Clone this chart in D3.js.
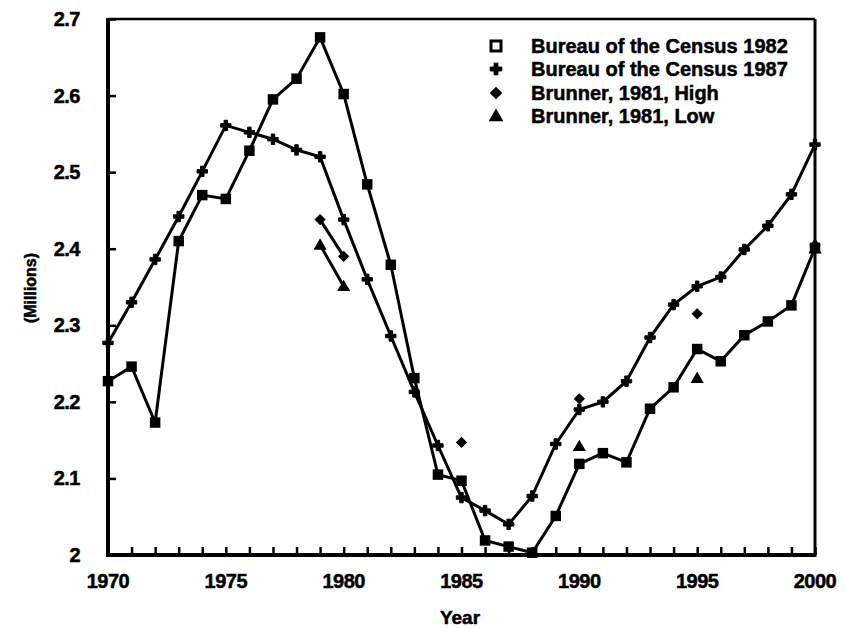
<!DOCTYPE html>
<html><head><meta charset="utf-8">
<script src="https://cdn.jsdelivr.net/npm/d3@7/dist/d3.min.js"></script>
<style>body{margin:0;background:#fff}svg{display:block}text{font-family:"Liberation Sans",Arial,sans-serif;font-weight:bold;fill:#000;stroke:#000;stroke-width:0.5}</style>
</head><body><svg id="c" width="845" height="628"></svg>
<script>
const years = d3.range(1970, 2001);
const census1982 = [2.227,2.246,2.173,2.410,2.470,2.465,2.528,2.595,2.622,2.676,2.602,2.484,2.379,2.231,2.105,2.097,2.019,2.011,2.003,2.051,2.119,2.133,2.121,2.191,2.219,2.269,2.253,2.287,2.305,2.326,2.401];
const census1987 = [2.277,2.330,2.386,2.442,2.501,2.561,2.552,2.543,2.529,2.520,2.438,2.360,2.286,2.213,2.143,2.075,2.058,2.040,2.077,2.145,2.190,2.200,2.227,2.284,2.327,2.351,2.363,2.399,2.430,2.471,2.536];
const brunnerHighYears = [1979,1980,1985,1990,1995,2000];
const brunnerHigh = [2.438,2.390,2.147,2.204,2.315,2.405];
const brunnerLowYears = [1979,1980,1990,1995,2000];
const brunnerLow = [2.405,2.351,2.142,2.231,2.400];
const xTickLabels = [1970,1975,1980,1985,1990,1995,2000];
const yTickLabels = [2,2.1,2.2,2.3,2.4,2.5,2.6,2.7];
const legendLabels = ["Bureau of the Census 1982","Bureau of the Census 1987","Brunner, 1981, High","Brunner, 1981, Low"];

const svg = d3.select("#c");
const x = d3.scaleLinear().domain([1970,2000]).range([108,815]);
const y = d3.scaleLinear().domain([2,2.7]).range([555,19]);

// frame
svg.append("line").attr("x1",x(1970)).attr("x2",x(2000)).attr("y1",y(2.7)).attr("y2",y(2.7)).attr("stroke","#000").attr("stroke-width",2.5);
svg.append("line").attr("x1",x(2000)).attr("x2",x(2000)).attr("y1",y(2.7)).attr("y2",y(2)).attr("stroke","#000").attr("stroke-width",3);

// axes with inward ticks
const xAxis = d3.axisBottom(x).tickValues(years).tickSize(-8).tickFormat("");
const gx = svg.append("g").attr("transform",`translate(0,${y(2)})`).call(xAxis);
gx.select(".domain").remove();
gx.selectAll(".tick line").attr("stroke","#000").attr("stroke-width",2.5);
const yAxis = d3.axisLeft(y).tickValues(yTickLabels).tickSize(-8).tickFormat("");
const gy = svg.append("g").attr("transform",`translate(${x(1970)},0)`).call(yAxis);
gy.select(".domain").remove();
gy.selectAll(".tick line").attr("stroke","#000").attr("stroke-width",2.5);
svg.append("line").attr("x1",x(1970)-2).attr("x2",x(2000)+1.5).attr("y1",y(2)).attr("y2",y(2)).attr("stroke","#000").attr("stroke-width",4);
svg.append("line").attr("x1",x(1970)).attr("x2",x(1970)).attr("y1",y(2.7)-1).attr("y2",y(2)+2).attr("stroke","#000").attr("stroke-width",4);

// tick labels
svg.selectAll(".xl").data(xTickLabels).enter().append("text")
  .attr("x",d=>x(d)).attr("y",y(2)+33).attr("text-anchor","middle").attr("font-size",20).attr("letter-spacing",-0.5).text(d=>d);
svg.selectAll(".yl").data(yTickLabels).enter().append("text")
  .attr("x",80).attr("y",d=>y(d)+7).attr("text-anchor","end").attr("font-size",20).attr("letter-spacing",-0.5).text(d=>d===2?"2":d.toFixed(1));

svg.append("text").attr("x",460).attr("y",624).attr("text-anchor","middle").attr("font-size",19).text("Year");
svg.append("text").attr("transform",`translate(36,288) rotate(-90)`).attr("text-anchor","middle").attr("font-size",16).text("(Millions)");

// lines
const line = d3.line().x(d=>x(d[0])).y(d=>y(d[1]));
const s1 = years.map((yr,i)=>[yr,census1982[i]]);
const s2 = years.map((yr,i)=>[yr,census1987[i]]);
svg.append("path").datum(s2).attr("d",line).attr("fill","none").attr("stroke","#000").attr("stroke-width",3);
svg.append("path").datum(s1).attr("d",line).attr("fill","none").attr("stroke","#000").attr("stroke-width",3);
const bh = brunnerHighYears.map((yr,i)=>[yr,brunnerHigh[i]]);
const bl = brunnerLowYears.map((yr,i)=>[yr,brunnerLow[i]]);
svg.append("path").datum(bh.slice(0,2)).attr("d",line).attr("fill","none").attr("stroke","#000").attr("stroke-width",3);
svg.append("path").datum(bl.slice(0,2)).attr("d",line).attr("fill","none").attr("stroke","#000").attr("stroke-width",3);

// markers
const sq = d3.symbol().type(d3.symbolSquare).size(110);
const cr = d3.symbol().type(d3.symbolCross).size(60);
const di = d3.symbol().type(d3.symbolSquare).size(64);
const tr = d3.symbol().type(d3.symbolTriangle).size(75);
svg.selectAll(".m2").data(s2).enter().append("path").attr("d",cr).attr("transform",d=>`translate(${x(d[0])},${y(d[1])})`).attr("fill","#000").attr("stroke","#000").attr("stroke-width",1);
svg.selectAll(".m1").data(s1).enter().append("path").attr("d",sq).attr("transform",d=>`translate(${x(d[0])},${y(d[1])})`).attr("fill","#000");
svg.selectAll(".m3").data(bh).enter().append("path").attr("d",di).attr("transform",d=>`translate(${x(d[0])},${y(d[1])}) rotate(45)`).attr("fill","#000");
svg.selectAll(".m4").data(bl).enter().append("path").attr("d",tr).attr("transform",d=>`translate(${x(d[0])},${y(d[1])+1})`).attr("fill","#000");

// legend
const ly = [46,69,93,116];
const lg = svg.append("g");
lg.append("rect").attr("x",491).attr("y",ly[0]-5).attr("width",10).attr("height",10).attr("fill","#fff").attr("stroke","#000").attr("stroke-width",3);
lg.append("path").attr("d",d3.symbol().type(d3.symbolCross).size(75)).attr("transform",`translate(496,${ly[1]})`).attr("stroke","#000").attr("stroke-width",1);
lg.append("path").attr("d",d3.symbol().type(d3.symbolSquare).size(80)).attr("transform",`translate(496,${ly[2]}) rotate(45)`);
lg.append("path").attr("d",d3.symbol().type(d3.symbolTriangle).size(95)).attr("transform",`translate(496,${ly[3]+1})`);
lg.selectAll(".lt").data(legendLabels).enter().append("text")
  .attr("x",531).attr("y",(d,i)=>ly[i]+7).attr("font-size",20).text(d=>d);
</script></body></html>
